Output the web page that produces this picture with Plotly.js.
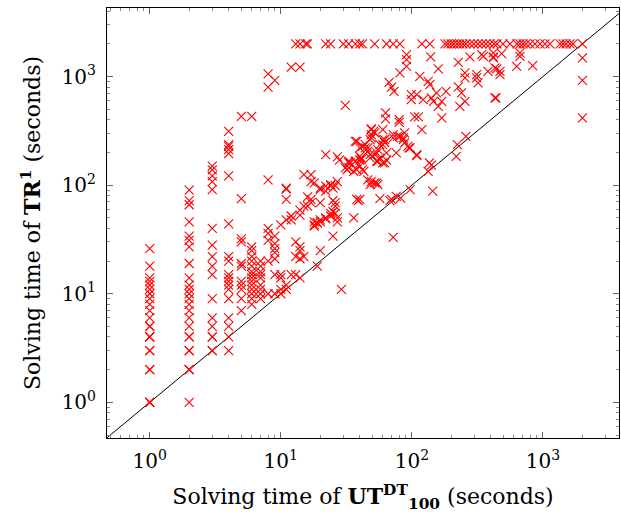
<!DOCTYPE html>
<html>
<head>
<meta charset="utf-8">
<script src="https://cdn.plot.ly/plotly-3.0.1.min.js"></script>
<style>html,body{margin:0;padding:0;background:#fff;}#chart{width:621px;height:520px;}</style>
</head>
<body>
<div id="chart"></div>
<script>
// Solving time of UT^DT_100 (x) vs TR^1 (y), seconds
const utTime = [
  1,1,1,1,1,1,1,1,1,1,1,1,1,1,1,1,1,1,1,1,1,1,1,
  2,2,2,2,2,2,2,2,2,2,2,2,2,2,2,2,2,2,2,2,2,2,2,2,2,
  3,3,3,3,3,3,3,3,3,3,3,3,3,3,3,3,3,
  4,4,4,4,4,4,4,4,4,4,4,4,4,4,4,4,4,4,4,
  5,5,5,5,5,5,5,5,5,5,5,
  6,6,6,6,6,6,6,6,6,6,6,6,6,6,6,
  7,7,7,7,7,7,7,7,7,
  8,8,8,8,8,8,8,8,
  9,9,9,9,9,9,9,9,
  10,10,10,10,10,
  11,11,11,11,11,11,
  12,12,12,12,
  13,13,13,
  14,14,14,14,14,14,14,
  15,15,15,16,16,17,17,17,17,
  18,18,18,18,19,19,19,
  20,20,20,20,20,20,
  22,22,22,22,22,24,24,24,24,
  25,25,25,25,26,26,26,26,27,27,27,27,28,29,
  31,31,32,33,33,33,34,36,36,37,37,38,38,38,39,39,
  40,40,40,40,40,41,41,42,42,43,44,44,46,46,46,
  48,48,48,48,49,49,49,49,49,51,52,52,52,54,54,54,55,55,55,
  57,57,57,60,60,60,60,62,62,62,63,63,64,64,67,68,70,70,
  72,72,72,73,76,76,78,80,80,81,81,82,86,86,88,88,
  91,91,91,93,95,97,97,99,99,105,109,109,109,112,115,119,122,
  133,133,136,137,139,141,141,144,146,154,159,159,169,169,182,
  218,222,226,226,232,239,254,254,254,258,277,312,312,320,341,351,380,
  418,418,418,430,430,438,443,470,470,484,630,667,667,834,
  2000,2000,2000
];
const trTime = [
  1,1,1,2,2,3,3,4,4,5,6,7,8,9,10,11,12,13,14,18,26,5,4,
  1,2,2,2,3,3,4,4,5,6,7,8,9,10,11,12,14,19,27,31,34,46,66,72,90,
  3,3,4,4,5,6,9,15,18,22,28,40,91,108,122,138,150,
  3,4,5,6,9,11,12,13,14,15,20,22,44,122,195,212,228,236,313,
  7,9,11,12,13,18,19,30,32,75,430,
  8,9,10,11,12,13,14,15,16,18,20,22,25,27,430,
  9,10,11,12,14,15,16,18,20,
  10,20,31,36,40,112,800,1060,
  10,15,21,24,26,29,34,920,
  10,11,14,15,43,
  11,12,48,74,92,94,
  15,48,52,1220,
  15,22,30,
  14,21,25,27,53,59,1220,
  22,64,125,64,78,69,74,108,125,
  42,43,46,105,18,45,45,
  25,46,48,69,91,94,
  49,50,88,98,191,52,55,99,101,
  34,57,72,94,55,64,69,99,46,50,108,182,170,11,
  144,542,139,144,160,166,160,50,134,166,253,74,139,253,72,154,
  74,150,170,184,220,172,178,139,228,134,220,236,112,205,220,
  101,178,191,262,108,272,292,330,324,313,105,191,303,105,166,198,101,166,212,
  75,178,236,160,236,262,324,160,247,262,407,462,170,198,885,72,74,800,
  33,272,292,731,79,198,281,379,400,281,1080,76,262,272,245,303,
  1240,1432,1592,228,220,91,220,613,681,425,187,191,681,425,1005,324,613,
  134,903,160,842,1515,153,635,88,591,706,532,1175,416,591,731,
  184,236,802,1352,532,706,591,971,1080,281,1515,971,1041,873,1592,1535,1117,
  1515,1650,1483,635,1200,635,1175,1041,1117,1625,1242,1535,1650,1259,
  416,923,1483
];
// runs that hit the time limit of TR^1
const timeoutUT = [13,14,15.5,16,22,24,30,33,37,40,42,52,64,72,81,119,137,
  179,188,199,209,221,232,245,258,277,297,319,342,367,394,423,446,495,560,
  633,667,704,742,796,869,949,1036,1130,1349,1422,1499,1607,1694,2000];
const timeLimit = 2000;

const xRange = [-0.326, 3.58];
const yRange = [-0.328, 3.631];
const diag = [Math.pow(10, Math.min(xRange[0], yRange[0]) - 0.05), Math.pow(10, Math.max(xRange[1], yRange[1]) + 0.05)];

const majorVals = [1, 10, 100, 1000];
const majorText = majorVals.map((v, i) => '10<sup>' + i + '</sup>');
const minorVals = [];
for (let e = -1; e <= 3; e++) for (let m = 2; m <= 9; m++) minorVals.push(m * Math.pow(10, e));

const markerStyle = {symbol: 'x-thin-open', size: 9, color: '#ff0000', line: {color: '#ff0000', width: 1.1}};

const traces = [
  {x: diag, y: diag, mode: 'lines', line: {color: '#000', width: 1}, hoverinfo: 'skip', showlegend: false},
  {x: utTime, y: trTime, mode: 'markers', marker: markerStyle, showlegend: false},
  {x: timeoutUT, y: timeoutUT.map(() => timeLimit), mode: 'markers', marker: markerStyle, showlegend: false}
];

const fontFam = 'DejaVu Serif, Liberation Serif, serif';
function axis(range, title) {
  return {
    type: 'log', range: range, autorange: false,
    showgrid: false, zeroline: false,
    showline: true, linecolor: '#000', linewidth: 1, mirror: 'allticks',
    tickmode: 'array', tickvals: majorVals, ticktext: majorText,
    ticks: 'inside', ticklen: 6, tickwidth: 1, tickcolor: '#666',
    minor: {tickmode: 'array', tickvals: minorVals, ticks: 'inside', ticklen: 3, tickwidth: 1, tickcolor: '#888'},
    tickfont: {family: fontFam, size: 20, color: '#000'},
    title: {text: title, font: {family: fontFam, size: 22, color: '#000'}}
  };
}

const layout = {
  width: 621, height: 520,
  margin: {l: 107, r: 2, t: 8, b: 82},
  paper_bgcolor: '#fff', plot_bgcolor: '#fff',
  xaxis: Object.assign(axis(xRange, 'Solving time of <b>UT</b><sup><b>DT</b></sup><sub><b>100</b></sub> (seconds)'), {ticklabelstandoff: 5}),
  yaxis: Object.assign(axis(yRange, 'Solving time of <b>TR</b><sup><b>1</b></sup> (seconds)'), {ticklabelstandoff: 6}),
  showlegend: false
};
layout.xaxis.title.standoff = 16;
layout.yaxis.title.standoff = 14;

Plotly.newPlot('chart', traces, layout, {displayModeBar: false, staticPlot: true});
</script>
</body>
</html>
